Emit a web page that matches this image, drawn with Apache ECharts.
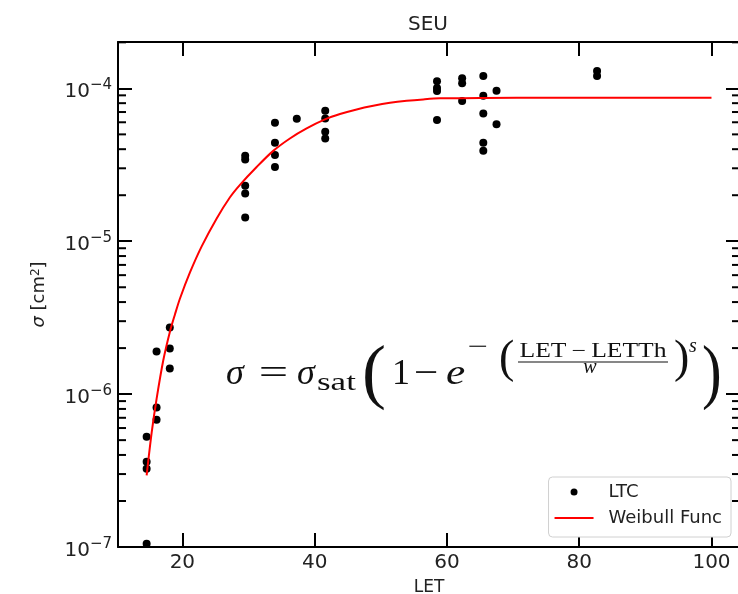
<!DOCTYPE html>
<html>
<head>
<meta charset="utf-8">
<script src="https://cdn.jsdelivr.net/npm/echarts@6/dist/echarts.min.js"></script>
<style>
  html, body { margin: 0; padding: 0; background: #fff; }
  #chart { width: 738px; height: 594px; }
</style>
</head>
<body>
<div id="chart"></div>
<script>
// LTC measurements (LET, sigma in cm^2)
const ltcLet = [
  14.6, 14.6, 14.6, 14.6,
  16.1, 16.1, 16.1,
  18.1, 18.1, 18.1,
  29.5, 29.5, 29.5, 29.5, 29.5,
  34.0, 34.0, 34.0, 34.0,
  37.3,
  41.6, 41.6, 41.6, 41.6,
  58.5, 58.5, 58.5, 58.5,
  62.3, 62.3, 62.3,
  65.5, 65.5, 65.5, 65.5, 65.5,
  67.5, 67.5,
  82.7, 82.7
]
const ltcSigma = [
  5.27e-7, 3.61e-7, 3.25e-7, 1.05e-7,
  1.90e-6, 8.16e-7, 6.81e-7,
  2.73e-6, 1.99e-6, 1.47e-6,
  3.62e-5, 3.43e-5, 2.31e-5, 2.05e-5, 1.43e-5,
  5.95e-5, 4.40e-5, 3.67e-5, 3.06e-5,
  6.32e-5,
  7.13e-5, 6.36e-5, 5.20e-5, 4.70e-5,
  1.111e-4, 1.004e-4, 9.6e-5, 6.2e-5,
  1.164e-4, 1.079e-4, 8.26e-5,
  1.204e-4, 8.94e-5, 6.86e-5, 4.40e-5, 3.90e-5,
  9.64e-5, 5.83e-5,
  1.30e-4, 1.204e-4
]

// Weibull fit, points
const fitLet = [
  14.6, 15.36, 16.11, 17.11, 18.13, 18.88, 19.64, 21.15, 22.92, 25.19, 27.2,
  28.71, 31.23, 33.74, 36.26, 38.79, 41.56, 43.83, 46.35, 48.86, 51.39, 53.91,
  56.42, 58.95, 65.55, 75.6, 100
]
const fitSigma = [
  2.94e-7, 5.59e-7, 9.34e-7, 1.66e-6, 2.57e-6, 3.32e-6, 4.22e-6, 6.25e-6, 9.26e-6, 1.41e-5, 1.94e-5,
  2.34e-5, 3.06e-5, 3.90e-5, 4.70e-5, 5.47e-5, 6.26e-5, 6.79e-5, 7.28e-5, 7.69e-5, 8.04e-5, 8.29e-5,
  8.47e-5, 8.60e-5, 8.66e-5, 8.68e-5, 8.68e-5
]

const xTickValues = [20, 40, 60, 80, 100]
const minorMantissas = [2, 3, 4, 5, 6, 7, 8, 9]
const decades = [-7, -6, -5, -4]

const xMin = 10.27, xMax = 104.31
const yMin = 1e-7, yMax = 2.01e-4

const sans = 'DejaVu Sans'
const serif = 'Liberation Serif'
const ink = '#222'

// minor tick positions of the log axis
const minorTicks = []
decades.forEach(d => {
    minorMantissas.forEach(m => {
        const v = m * Math.pow(10, d)
        if (v < yMax) minorTicks.push([50, v])
    })
})

const ltcData = ltcLet.map((x, i) => [x, ltcSigma[i]])
const fitData = fitLet.map((x, i) => [x, fitSigma[i]])

function xLabel (v) {
    return xTickValues.indexOf(Math.round(v * 1000) / 1000) >= 0 ? String(v) : ''
}
function yLabel (v) {
    const e = Math.log10(v)
    const r = Math.round(e)
    if (Math.abs(e - r) > 1e-6) return ''
    return '{b|10}{s|\u2212' + (-r) + '}'
}

const spine = { show: true, lineStyle: { color: '#000', width: 2 } }
const majorTick = { show: true, inside: true, length: 14, lineStyle: { color: '#000', width: 2 } }

function ftext (txt, x, y, size, opts) {
    opts = opts || {}
    return {
        type: 'text',
        x: x, y: y,
        scaleX: opts.sx || 1,
        scaleY: opts.sy || 1,
        z: 100,
        style: {
            text: txt,
            fontFamily: serif,
            fontSize: size,
            fontStyle: opts.italic ? 'italic' : 'normal',
            fill: '#111',
            align: opts.align || 'left',
            textAlign: opts.align || 'left',
            verticalAlign: 'middle',
            textVerticalAlign: 'middle'
        }
    }
}

const chart = echarts.init(document.getElementById('chart'))
const option = {
    animation: false,
    backgroundColor: '#fff',
    title: {
        text: 'SEU',
        left: 403,
        top: 10,
        textStyle: { fontFamily: sans, fontSize: 20, fontWeight: 'normal', color: ink }
    },
    grid: { left: 118, right: -2, top: 42, bottom: 47, outerBoundsMode: 'none', containLabel: false },
    legend: {
        data: [
            { name: 'LTC' },
            { name: 'Weibull Func', itemStyle: { opacity: 0, color: 'rgba(0,0,0,0)', borderWidth: 0 } }
        ],
        orient: 'vertical',
        right: 7,
        top: 477,
        itemWidth: 39,
        itemHeight: 7,
        itemGap: 8,
        padding: [6, 9, 10, 5],
        backgroundColor: '#fff',
        borderColor: '#d0d0d0',
        borderWidth: 1,
        borderRadius: 4,
        textStyle: { fontFamily: sans, fontSize: 18, color: ink, padding: [0, 0, 0, 10] }
    },
    xAxis: [
        {
            type: 'value', min: xMin, max: xMax,
            name: 'LET', nameLocation: 'middle', nameGap: 32,
            nameTextStyle: { fontFamily: sans, fontSize: 17, color: ink },
            axisLine: spine, axisTick: majorTick, splitLine: { show: false },
            axisLabel: { formatter: xLabel, margin: 6, fontFamily: sans, fontSize: 20, color: ink }
        },
        {
            type: 'value', min: xMin, max: xMax, position: 'top',
            axisLine: spine, axisTick: majorTick, splitLine: { show: false },
            axisLabel: { show: false }
        }
    ],
    yAxis: [
        {
            type: 'log', logBase: 10, min: yMin, max: yMax,
            name: '{i|\u03c3} [cm{s|2}]', nameLocation: 'middle', nameGap: 70,
            nameTextStyle: {
                fontFamily: sans, fontSize: 18, color: ink,
                rich: {
                    i: { fontFamily: sans, fontSize: 18, fontStyle: 'italic', color: ink },
                    s: { fontFamily: sans, fontSize: 12, color: ink, verticalAlign: 'top', lineHeight: 12 }
                }
            },
            axisLine: spine, axisTick: majorTick, splitLine: { show: false },
            axisLabel: {
                formatter: yLabel, margin: 6, padding: [7, 0, 0, 0],
                rich: {
                    b: { fontFamily: sans, fontSize: 20, color: ink, lineHeight: 28 },
                    s: { fontFamily: sans, fontSize: 15, color: ink, lineHeight: 15, verticalAlign: 'top' }
                }
            }
        },
        {
            type: 'log', logBase: 10, min: yMin, max: yMax, position: 'right',
            axisLine: spine, axisTick: majorTick, splitLine: { show: false },
            axisLabel: { show: false }
        }
    ],
    series: [
        {
            name: 'LTC',
            type: 'scatter',
            data: ltcData,
            symbol: 'circle',
            symbolSize: 8,
            itemStyle: { color: '#000', opacity: 1 },
            z: 3
        },
        {
            name: 'Weibull Func',
            type: 'line',
            data: fitData,
            symbol: 'none',
            smooth: 0.3,
            lineStyle: { color: '#ff0000', width: 2 },
            itemStyle: { color: '#ff0000' },
            z: 4
        },
        {
            type: 'custom',
            data: minorTicks,
            silent: true,
            clip: false,
            z: 5,
            renderItem: function (params, api) {
                const y = api.coord([api.value(0), api.value(1)])[1]
                const cs = params.coordSys
                const st = { stroke: '#000', lineWidth: 2 }
                return {
                    type: 'group',
                    children: [
                        { type: 'line', shape: { x1: cs.x, y1: y, x2: cs.x + 8, y2: y }, style: st },
                        { type: 'line', shape: { x1: cs.x + cs.width - 8, y1: y, x2: cs.x + cs.width, y2: y }, style: st }
                    ]
                }
            }
        }
    ],
    graphic: [
        ftext('\u03c3', 226, 375, 36, { italic: true }),
        ftext('=', 273.5, 375, 36, { align: 'center', sx: 1.45 }),
        ftext('\u03c3', 297, 375, 36, { italic: true }),
        ftext('sat', 317, 383, 25, { sx: 1.4 }),
        ftext('(', 362, 376, 72),
        ftext('1', 392, 375, 36),
        ftext('\u2212', 426, 375, 36, { align: 'center', sx: 1.2 }),
        ftext('e', 446, 375, 36, { italic: true, sx: 1.2 }),
        ftext('\u2212', 478, 348, 24, { align: 'center', sx: 1.5 }),
        ftext('(', 499, 360, 46),
        ftext('LET\u2009\u2212\u2009LETTh', 593, 351.5, 20, { align: 'center', sx: 1.28 }),
        {
            type: 'line', z: 100,
            shape: { x1: 518, y1: 362, x2: 668, y2: 362 },
            style: { stroke: '#111', lineWidth: 1.2 }
        },
        ftext('w', 590, 368, 20, { italic: true, align: 'center' }),
        ftext(')', 674, 360, 46),
        ftext('s', 689, 347, 20, { italic: true }),
        ftext(')', 702, 376, 72, { sx: 0.82 })
    ]
}
chart.setOption(option)
</script>
</body>
</html>
